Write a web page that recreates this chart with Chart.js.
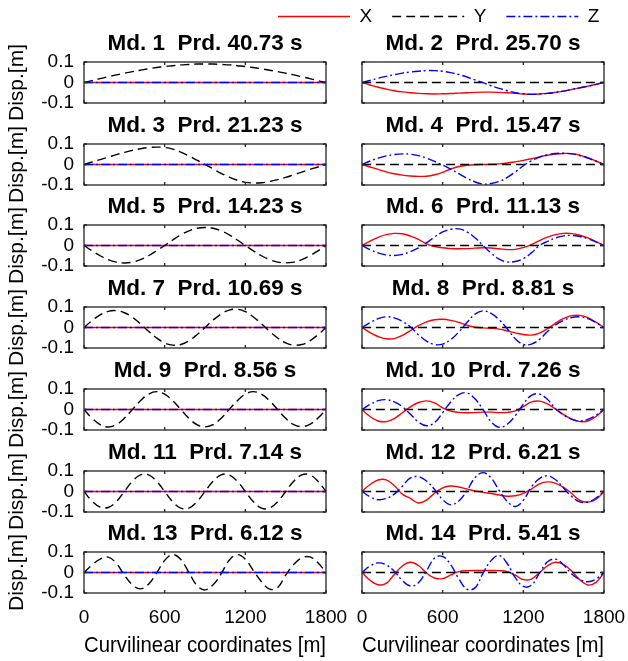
<!DOCTYPE html>
<html>
<head>
<meta charset="utf-8">
<title>Mode shapes</title>
<script src="https://cdn.jsdelivr.net/npm/chart.js@4.4.1/dist/chart.umd.min.js"></script>
<style>
  html, body { margin: 0; padding: 0; background: #fff; }
  #fig { position: relative; width: 628px; height: 661px; overflow: hidden; }
  #fig canvas { position: absolute; }
</style>
</head>
<body>
<div id="fig"></div>
<script>
// ---- DATA ----
// stations along the alignment [m]
const XS = [0, 60, 120, 180, 240, 300, 360, 420, 480, 540, 600, 660, 720, 780, 840, 900,
            960, 1020, 1080, 1140, 1200, 1260, 1320, 1380, 1440, 1500, 1560, 1620, 1680, 1740, 1800];

const FLAT = [0, 0, 0, 0, 0, 0, 0, 0, 0, 0, 0, 0, 0, 0, 0, 0, 0, 0, 0, 0, 0, 0, 0, 0, 0, 0, 0, 0, 0, 0, 0];

const MODES = [1, 2, 3, 4, 5, 6, 7, 8, 9, 10, 11, 12, 13, 14];
const PERIODS = [40.73, 25.70, 21.23, 15.47, 14.23, 11.13, 10.69, 8.81, 8.56, 7.26, 7.14, 6.21, 6.12, 5.41];

const SERIES_NAMES = ["X", "Y", "Z"];
const SERIES_COLORS = ["#ff0000", "#000000", "#0000ff"];
const SERIES_DASH = [[], [9, 5], [9, 3, 2, 3]];

// transverse (Y) modes
const md1Y  = [0,.009,.019,.028,.037,.045,.053,.060,.067,.073,.078,.082,.086,.088,.090,.090,.090,.088,.086,.082,.078,.073,.067,.060,.053,.045,.037,.028,.019,.009,0];
const md3Y  = [0,.012,.024,.036,.048,.059,.069,.077,.083,.085,.083,.075,.060,.042,.021,0,-.021,-.043,-.062,-.077,-.087,-.090,-.089,-.083,-.074,-.063,-.050,-.037,-.024,-.012,0];
const md5Y  = [0,-.026,-.050,-.069,-.081,-.085,-.081,-.069,-.050,-.026,0,.027,.052,.071,.084,.088,.084,.071,.052,.027,0,-.026,-.050,-.069,-.081,-.085,-.081,-.069,-.050,-.026,0];
const md7Y  = [0,.034,.062,.079,.082,.072,.050,.018,-.018,-.051,-.075,-.086,-.083,-.065,-.035,0,.036,.066,.085,.089,.077,.051,.018,-.018,-.051,-.075,-.086,-.083,-.065,-.035,0];
const md9Y  = [0,-.043,-.074,-.085,-.074,-.043,0,.043,.075,.087,.075,.043,0,-.043,-.074,-.085,-.074,-.043,0,.043,.075,.087,.075,.043,0,-.043,-.074,-.083,-.072,-.042,0];
const md11Y = [0,-.047,-.076,-.078,-.050,0,.050,.081,.081,.050,0,-.050,-.081,-.081,-.050,0,.050,.081,.081,.050,0,-.050,-.081,-.081,-.050,0,.050,.081,.081,.050,0];
const md13Y = [0,.037,.065,.075,.045,-.012,-.060,-.080,-.057,-.003,.059,.087,.063,.001,-.063,-.085,-.060,-.006,.060,.087,.065,.009,-.045,-.081,-.074,-.013,.039,.071,.076,.048,0];

// coupled longitudinal (X) / vertical (Z) modes
const md2X  = [0,-.012,-.023,-.032,-.040,-.046,-.050,-.053,-.055,-.056,-.055,-.054,-.052,-.050,-.048,-.047,-.047,-.048,-.050,-.053,-.056,-.057,-.056,-.053,-.048,-.042,-.034,-.026,-.018,-.009,0];
const md2Z  = [0,.010,.021,.030,.038,.046,.051,.055,.058,.058,.055,.048,.039,.027,.013,-.001,-.016,-.029,-.040,-.050,-.055,-.058,-.056,-.053,-.048,-.042,-.034,-.026,-.018,-.009,0];
const md4X  = [0,-.012,-.024,-.036,-.045,-.052,-.056,-.058,-.057,-.050,-.038,-.022,-.010,-.004,-.001,0,.001,.003,.007,.013,.020,.028,.037,.045,.051,.054,.053,.046,.033,.017,0];
const md4Z  = [0,.017,.031,.042,.049,.052,.050,.043,.031,.015,-.003,-.023,-.045,-.067,-.085,-.095,-.093,-.083,-.063,-.036,-.006,.018,.036,.048,.054,.055,.052,.044,.031,.016,0];
const md6X  = [0,.021,.040,.053,.059,.057,.046,.030,.008,-.005,-.011,-.015,-.016,-.015,-.013,-.011,-.012,-.016,-.020,-.019,-.010,.004,.024,.041,.053,.059,.058,.050,.037,.019,0];
const md6Z  = [0,-.020,-.036,-.046,-.049,-.043,-.030,-.012,.013,.042,.066,.079,.081,.067,.038,0,-.037,-.067,-.080,-.078,-.064,-.036,0,.020,.037,.047,.049,.044,.033,.018,0];
const md8X  = [0,-.025,-.044,-.055,-.054,-.039,-.015,.009,.027,.038,.040,.035,.025,.011,.001,-.002,-.004,-.008,-.016,-.026,-.034,-.037,-.027,-.006,.021,.044,.058,.059,.048,.026,0];
const md8Z  = [0,.024,.043,.052,.047,.030,.003,-.035,-.066,-.083,-.081,-.059,-.022,.024,.065,.081,.069,.038,-.006,-.055,-.083,-.081,-.058,-.020,.013,.035,.049,.052,.043,.024,0];
const md10X = [0,-.034,-.056,-.059,-.044,-.016,.013,.034,.042,.032,.008,-.008,-.014,-.016,-.015,-.013,-.013,-.015,-.014,-.007,.014,.037,.041,.027,.002,-.025,-.047,-.059,-.056,-.034,0];
const md10Z = [0,.025,.043,.048,.037,.014,-.023,-.061,-.079,-.064,-.015,.037,.073,.081,.052,0,-.060,-.087,-.072,-.030,.026,.069,.075,.049,.004,-.027,-.048,-.056,-.048,-.028,0];
const md12X = [0,.034,.056,.057,.029,-.013,-.034,-.056,-.042,-.008,.018,.027,.022,.012,.003,-.004,-.010,-.017,-.023,-.021,-.009,.012,.037,.047,.040,.020,-.010,-.043,-.052,-.039,0];
const md12Z = [0,-.026,-.040,-.034,-.013,.026,.066,.072,.051,.010,-.040,-.065,-.046,.003,.067,.092,.067,.005,-.048,-.073,-.043,.022,.063,.076,.057,.016,-.024,-.051,-.051,-.032,0];
const md14X = [0,-.038,-.060,-.053,-.010,.032,.050,.034,-.003,-.027,-.030,-.012,.004,.009,.010,.010,.010,.009,.004,-.013,-.035,-.032,-.001,.033,.050,.039,.007,-.036,-.061,-.048,0];
const md14Z = [0,.032,.047,.037,.006,-.039,-.066,-.050,.008,.071,.078,.038,-.030,-.081,-.075,-.004,.058,.083,.044,-.025,-.068,-.062,-.003,.052,.065,.037,-.007,-.034,-.045,-.032,0];

// one entry per subplot: [X, Y, Z]
const SHAPES = [
  [FLAT, md1Y, FLAT],  [md2X, FLAT, md2Z],
  [FLAT, md3Y, FLAT],  [md4X, FLAT, md4Z],
  [FLAT, md5Y, FLAT],  [md6X, FLAT, md6Z],
  [FLAT, md7Y, FLAT],  [md8X, FLAT, md8Z],
  [FLAT, md9Y, FLAT],  [md10X, FLAT, md10Z],
  [FLAT, md11Y, FLAT], [md12X, FLAT, md12Z],
  [FLAT, md13Y, FLAT], [md14X, FLAT, md14Z]
];

const X_TICK_STEP = 600;
const Y_TICK_STEP = 0.1;

// ---- LAYOUT ----
const FONT = "'Liberation Sans', Arial, Helvetica, sans-serif";
const ROW_TOP = [62, 144, 225, 307, 389, 471, 552];
const PLOT_W = 242, PLOT_H = 41, TITLE_H = 34;
const COLS = [
  { left: 0,   width: 350, padLeft: 0,  yAxisW: 84 },
  { left: 340, width: 288, padLeft: 22, yAxisW: 0 }
];

Chart.defaults.font.family = FONT;
Chart.defaults.color = "#000";

const fig = document.getElementById("fig");

// boxed axes: frame + inward tick marks
const frameBox = {
  id: "frameBox",
  afterDatasetsDraw(chart) {
    const { ctx, chartArea: a, scales: { x, y } } = chart;
    ctx.save();
    ctx.strokeStyle = "#262626";
    ctx.lineWidth = 1.3;
    ctx.beginPath();
    x.ticks.forEach(t => {
      const px = x.getPixelForValue(t.value);
      ctx.moveTo(px, a.top); ctx.lineTo(px, a.top + 3);
      ctx.moveTo(px, a.bottom); ctx.lineTo(px, a.bottom - 3);
    });
    y.ticks.forEach(t => {
      const py = y.getPixelForValue(t.value);
      ctx.moveTo(a.left, py); ctx.lineTo(a.left + 3, py);
      ctx.moveTo(a.right, py); ctx.lineTo(a.right - 3, py);
    });
    ctx.stroke();
    ctx.strokeRect(a.left, a.top, a.right - a.left, a.bottom - a.top);
    ctx.restore();
  }
};

// subplot title centred over the plot box (not the whole canvas)
const panelTitle = {
  id: "panelTitle",
  afterDraw(chart, args, opts) {
    const { ctx, chartArea: a } = chart;
    ctx.save();
    ctx.font = `bold ${opts.size}px ${FONT}`;
    ctx.fillStyle = "#000";
    ctx.textAlign = "center";
    ctx.textBaseline = "middle";
    ctx.fillText(opts.text, (a.left + a.right) / 2, a.top - opts.offset);
    ctx.restore();
  }
};

function addCanvas(left, top, w, h) {
  const c = document.createElement("canvas");
  c.width = w; c.height = h;
  c.style.left = left + "px";
  c.style.top = top + "px";
  c.style.width = w + "px";
  c.style.height = h + "px";
  fig.appendChild(c);
  return c;
}

function makeSubplot(i) {
  const row = Math.floor(i / 2), col = i % 2;
  const bottomRow = row === ROW_TOP.length - 1;
  const c = COLS[col];
  const bottomH = bottomRow ? 68 : 26;
  const h = TITLE_H + PLOT_H + bottomH;
  const canvas = addCanvas(c.left, ROW_TOP[row] - TITLE_H, c.width, h);

  const datasets = SHAPES[i].map((vals, s) => ({
    label: SERIES_NAMES[s],
    data: XS.map((xv, k) => ({ x: xv, y: vals[k] })),
    borderColor: SERIES_COLORS[s],
    borderDash: SERIES_DASH[s],
    borderWidth: 1.4,
    pointRadius: 0,
    tension: 0.4,
    fill: false,
    order: 3 - s
  }));

  new Chart(canvas, {
    type: "line",
    data: { datasets },
    options: {
      responsive: false,
      animation: false,
      devicePixelRatio: 1,
      events: [],
      layout: {
        padding: {
          left: c.padLeft,
          right: c.width - c.padLeft - c.yAxisW - PLOT_W,
          top: TITLE_H,
          bottom: bottomRow ? 0 : bottomH
        }
      },
      plugins: {
        legend: { display: false },
        tooltip: { enabled: false },
        title: { display: false },
        panelTitle: {
          text: `Md. ${MODES[i]}  Prd. ${PERIODS[i].toFixed(2)} s`,
          size: 22.5,
          offset: 17.8
        }
      },
      scales: {
        x: {
          type: "linear",
          min: 0, max: 1800,
          grid: { display: false, drawTicks: false },
          border: { display: false },
          ticks: {
            display: bottomRow,
            stepSize: X_TICK_STEP,
            autoSkip: false,
            padding: 13,
            color: "#000",
            font: { size: 19 },
            maxRotation: 0,
            callback: v => String(v)
          },
          title: {
            display: bottomRow,
            text: "Curvilinear coordinates [m]",
            font: { size: 21.5 },
            color: "#000",
            padding: { top: 0, bottom: 2 }
          },
          afterFit(scale) {
            scale.height = bottomRow ? bottomH : 0;
            scale.paddingLeft = 0; scale.paddingRight = 0;
          }
        },
        y: {
          min: -0.1, max: 0.1,
          grid: { display: false, drawTicks: false },
          border: { display: false },
          ticks: {
            display: col === 0,
            stepSize: Y_TICK_STEP,
            autoSkip: false,
            padding: 10,
            color: "#000",
            font: { size: 19 },
            callback: v => String(Math.round(v * 10) / 10)
          },
          title: {
            display: col === 0,
            text: "Disp.[m]",
            font: { size: 21 },
            color: "#000",
            padding: { top: 5, bottom: 0 }
          },
          afterFit(scale) {
            scale.width = c.yAxisW;
            scale.paddingTop = 0; scale.paddingBottom = 0;
          }
        }
      }
    },
    plugins: [frameBox, panelTitle]
  });
}

MODES.forEach((m, i) => makeSubplot(i));

// shared legend across the top
const legendCanvas = addCanvas(258, -13, 370, 100);
new Chart(legendCanvas, {
  type: "line",
  data: {
    datasets: SERIES_NAMES.map((n, s) => ({
      label: n, data: [], borderColor: SERIES_COLORS[s], borderDash: SERIES_DASH[s], borderWidth: 1.4
    }))
  },
  options: {
    responsive: false,
    animation: false,
    devicePixelRatio: 1,
    events: [],
    scales: { x: { display: false }, y: { display: false } },
    plugins: {
      tooltip: { enabled: false },
      legend: {
        display: true,
        position: "top",
        align: "start",
        maxHeight: 90,
        labels: {
          usePointStyle: true,
          pointStyleWidth: 72,
          padding: 20,
          color: "#000",
          font: { size: 19 },
          generateLabels: () => SERIES_NAMES.map((n, s) => ({
            text: n,
            datasetIndex: s,
            hidden: false,
            pointStyle: "line",
            strokeStyle: SERIES_COLORS[s],
            fillStyle: SERIES_COLORS[s],
            lineWidth: 1.4,
            lineDash: SERIES_DASH[s],
            fontColor: "#000"
          }))
        }
      }
    }
  }
});
</script>
</body>
</html>
